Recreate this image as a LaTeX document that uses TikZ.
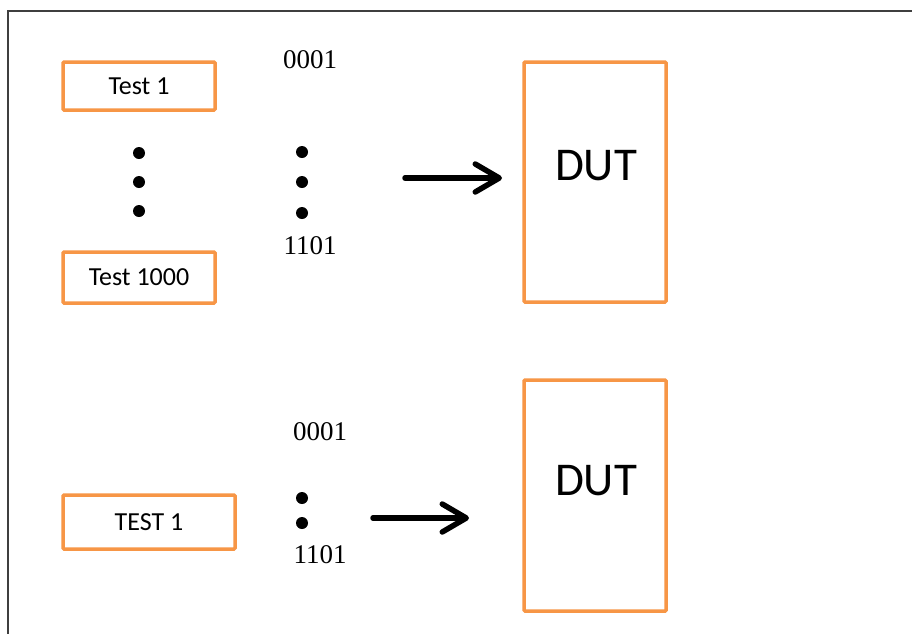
\documentclass[tikz,border=0pt]{standalone}
\usepackage{fontspec}
\setmainfont{Liberation Serif}
\newfontfamily\labelfont{Carlito}
\usetikzlibrary{arrows.meta}
\definecolor{boxorange}{HTML}{F79646}
\definecolor{framegray}{HTML}{3F3F3F}
\tikzset{
  testbox/.style={draw=boxorange, line width=3.5pt, rounded corners=1pt, inner sep=0pt,
    font=\labelfont\fontsize{26}{30}\selectfont},
  dutbox/.style={draw=boxorange, line width=3.5pt, rounded corners=1pt, inner sep=0pt, minimum width=142pt},
  duttext/.style={font=\labelfont\fontsize{47}{52}\selectfont, inner sep=0pt},
  code/.style={font=\fontsize{27}{31}\selectfont, inner sep=0pt},
  bullet/.style={circle, fill=black, inner sep=0pt, minimum size=12pt},
  flow/.style={line width=5.5pt, line cap=round, -{Straight Barb[length=24pt, width=28pt, line cap=round, line join=round]}}
}
\begin{document}
\begin{tikzpicture}[x=1pt, y=-1pt]
  \useasboundingbox (0,0) rectangle (912,633);
  \clip (0,0) rectangle (912,633);
  \fill[white] (0,0) rectangle (912,633);
  % outer frame
  \draw[framegray, line width=2pt] (7.5,11) rectangle (1000,700);

  % upper group: many tests
  \node[testbox, minimum width=152pt, minimum height=48pt] (t1) at (139,86) {Test 1};
  \node[testbox, minimum width=152pt, minimum height=51pt] (t1000) at (139,277.5) {Test 1000};
  \node[bullet] (ld1) at (139,153) {};
  \node[bullet] (ld2) at (139,182) {};
  \node[bullet] (ld3) at (139,211) {};

  \node[code] (c1) at (310,60) {0001};
  \node[bullet] (rd1) at (302,152) {};
  \node[bullet] (rd2) at (302,182) {};
  \node[bullet] (rd3) at (302,213) {};
  \node[code] (c2) at (310,246) {1101};

  \coordinate (a1s) at (405,178);
  \coordinate (a1e) at (502,178);
  \draw[flow] (a1s) -- (a1e);

  \node[dutbox, minimum height=240pt] (dut1) at (595,182) {};
  \node[duttext] (dut1t) at (596,166) {DUT};

  % lower group: single test
  \node[testbox, minimum width=172pt, minimum height=54pt] (t1b) at (149,522) {TEST 1};
  \node[code] (c3) at (320,432) {0001};
  \node[bullet] (bd1) at (302,498) {};
  \node[bullet] (bd2) at (302,523) {};
  \node[code] (c4) at (320,555) {1101};

  \coordinate (a2s) at (373,518);
  \coordinate (a2e) at (469,518);
  \draw[flow] (a2s) -- (a2e);

  \node[dutbox, minimum height=231pt] (dut2) at (595,495.5) {};
  \node[duttext] (dut2t) at (596,481) {DUT};
\end{tikzpicture}
\end{document}
